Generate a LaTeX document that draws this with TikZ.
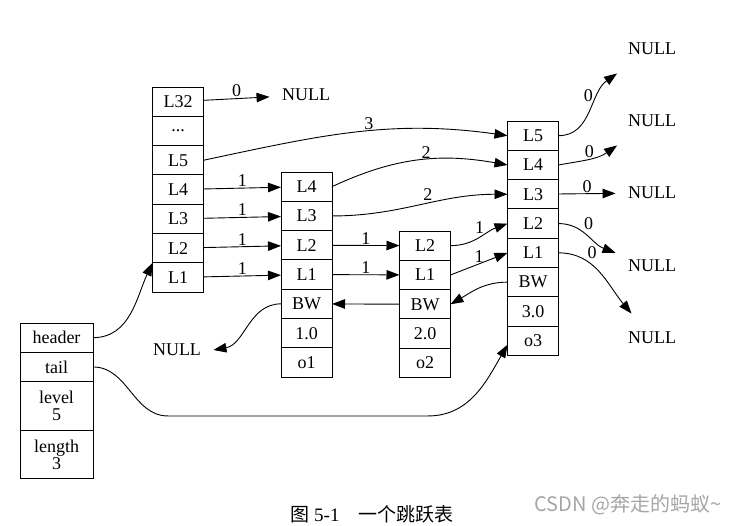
\documentclass[tikz,border=0pt]{standalone}
\usepackage{fontspec}
\setmainfont{Liberation Serif}
\newfontfamily\cjk{Noto Sans CJK SC}
\usetikzlibrary{positioning,arrows.meta}

\begin{document}
\begin{tikzpicture}[x=1pt,y=1pt,line width=0.9pt,>={Triangle[length=13pt,width=9.5pt]},
  every node/.style={font=\fontsize{18}{17}\selectfont},
  cell/.style={draw,minimum width=51pt,minimum height=29.3pt,inner sep=0pt,outer sep=0pt},
  null node/.style={minimum width=72pt,minimum height=48pt,inner sep=0pt}]
  \useasboundingbox (0,0) rectangle (730,-525);

  % header column
  \node[cell] (h32) at (178,-101.65) {L32};
  \node[cell] (hdots) [below=0pt of h32] {...};
  \node[cell] (h5) [below=0pt of hdots] {L5};
  \node[cell] (h4) [below=0pt of h5] {L4};
  \node[cell] (h3) [below=0pt of h4] {L3};
  \node[cell] (h2) [below=0pt of h3] {L2};
  \node[cell] (h1) [below=0pt of h2] {L1};

  % first node
  \node[cell] (a4) at (306.5,-186.65) {L4};
  \node[cell] (a3) [below=0pt of a4] {L3};
  \node[cell] (a2) [below=0pt of a3] {L2};
  \node[cell] (a1) [below=0pt of a2] {L1};
  \node[cell] (abw) [below=0pt of a1] {BW};
  \node[cell] (ascore) [below=0pt of abw] {1.0};
  \node[cell] (aobj) [below=0pt of ascore] {o1};

  % second node
  \node[cell] (b2) at (425,-245.65) {L2};
  \node[cell] (b1) [below=0pt of b2] {L1};
  \node[cell] (bbw) [below=0pt of b1] {BW};
  \node[cell] (bscore) [below=0pt of bbw] {2.0};
  \node[cell] (bobj) [below=0pt of bscore] {o2};

  % third node
  \node[cell] (c5) at (533,-135.65) {L5};
  \node[cell] (c4) [below=0pt of c5] {L4};
  \node[cell] (c3) [below=0pt of c4] {L3};
  \node[cell] (c2) [below=0pt of c3] {L2};
  \node[cell] (c1) [below=0pt of c2] {L1};
  \node[cell] (cbw) [below=0pt of c1] {BW};
  \node[cell] (cscore) [below=0pt of cbw] {3.0};
  \node[cell] (cobj) [below=0pt of cscore] {o3};

  % list struct
  \node[cell,minimum width=73pt] (header) at (56.5,-337.65) {header};
  \node[cell,minimum width=73pt] (tail) [below=0pt of header] {tail};
  \node[cell,minimum width=73pt,minimum height=49pt,align=center] (level) [below=0pt of tail] {level\\5};
  \node[cell,minimum width=73pt,minimum height=48pt,align=center] (length) [below=0pt of level] {length\\3};

  % NULL
  \node[null node] (n32) at (306,-95) {NULL};
  \node[null node] (nl) at (177,-350) {NULL};
  \node[null node] (n5) at (652,-49) {NULL};
  \node[null node] (n4) at (652,-121) {NULL};
  \node[null node] (n3) at (652,-193) {NULL};
  \node[null node] (n2) at (652,-266) {NULL};
  \node[null node] (n1) at (652,-338) {NULL};

  \path[->, every node/.style={font=\fontsize{18}{17}\selectfont,inner sep=1pt}]
    (h32) edge node [above] {0} (n32)
    (h5.east) edge [out=12,in=172] node [above,pos=.55] {3} (c5.west)
    (h4) edge node [above] {1} (a4)
    (h3) edge node [above] {1} (a3)
    (h2) edge node [above] {1} (a2)
    (h1) edge node [above] {1} (a1)
    (a4.east) edge [out=25,in=170] node [above,pos=.55] {2} (c4.west)
    (a3.east) edge [out=0,in=180] node [above,pos=.55,yshift=2pt] {2} (c3.west)
    (a2) edge node [above] {1} (b2)
    (a1) edge node [above] {1} (b1)
    (b2.east) edge [out=0,in=200] node [above,pos=.5,yshift=3pt] {1} (c2.west)
    (b1.east) edge node [above] {1} (c1.west)
    (bbw) edge (abw)
    (cbw.west) edge [out=180,in=30] (bbw.east)
    (abw.west) edge [out=180,in=10] (nl.east)
    (c5.east) edge [out=0,in=215] node [above left,pos=.6] {0} (n5)
    (c4.east) edge [out=10,in=215] node [above,pos=.5] {0} (n4)
    (c3) edge node [above] {0} (n3)
    (c2.east) edge [out=0,in=160] node [above right,pos=.4] {0} (n2)
    (c1.east) edge [out=0,in=130] node [above right,pos=.3] {0} (n1)
    (header.east) edge [out=0,in=245] (h1.north west);

  \draw[->] (tail.east) to[out=0,in=180] ++(75,-49) -- ++(260,0)
    to[out=0,in=240] ([yshift=-4pt]cobj.west);

  % caption and mark
  \node[inner sep=0pt] (caption) at (372,-514) {\fontsize{19}{19}\selectfont{\cjk 图} 5-1\hspace{1em}{\cjk 一个跳跃表}};
  \node[text=black!35] (mark) at (628,-505) {\cjk\fontsize{20}{20}\selectfont CSDN @奔走的蚂蚁\textasciitilde};
\end{tikzpicture}
\end{document}
